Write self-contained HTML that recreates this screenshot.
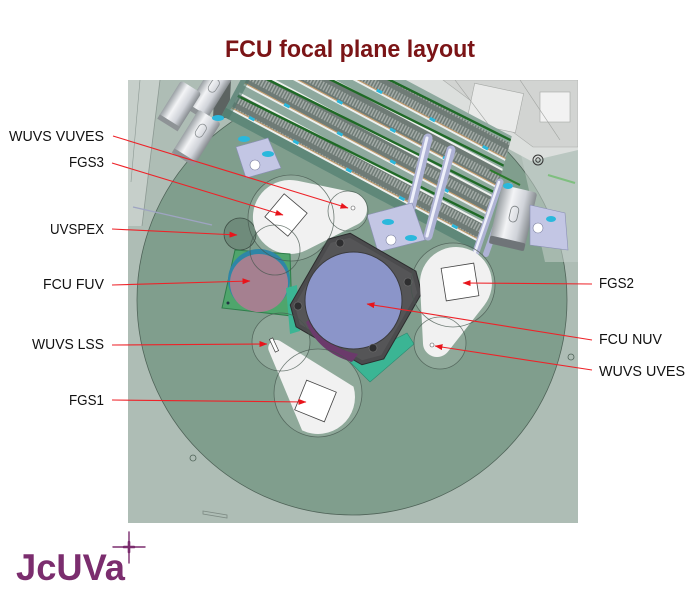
<!DOCTYPE html>
<html><head><meta charset="utf-8">
<style>
html,body{margin:0;padding:0;background:#fff;}
svg{display:block;}
</style></head>
<body>
<svg width="700" height="603" viewBox="0 0 700 603" xmlns="http://www.w3.org/2000/svg" font-family="'Liberation Sans', Arial, sans-serif">
<defs>
  <pattern id="teeth" patternUnits="userSpaceOnUse" width="3" height="13">
    <rect width="3" height="13" fill="#6f7b76"/>
    <rect x="0" y="0" width="1.5" height="8" fill="#a3aba7"/>
  </pattern>
  <linearGradient id="cyl" x1="0" y1="0" x2="1" y2="0">
    <stop offset="0" stop-color="#9aa0a4"/>
    <stop offset="0.35" stop-color="#f3f4f6"/>
    <stop offset="0.7" stop-color="#d0d3d9"/>
    <stop offset="1" stop-color="#878c90"/>
  </linearGradient>
  <marker id="ah" markerWidth="8" markerHeight="6" refX="7.5" refY="3" orient="auto" markerUnits="userSpaceOnUse">
    <path d="M0,0 L8,3 L0,6 Z" fill="#e8141b"/>
  </marker>
  <clipPath id="frame"><rect x="128" y="80" width="450" height="443"/></clipPath>
  <clipPath id="bandclip"><polygon points="100,60 533,60 478,258 100,258"/></clipPath>
</defs>

<!-- Title -->
<text x="350" y="57" text-anchor="middle" font-size="24" font-weight="bold" fill="#7b1416" textLength="250" lengthAdjust="spacingAndGlyphs">FCU focal plane layout</text>

<!-- Frame -->
<rect x="128" y="80" width="450" height="443" fill="#aebdb5"/>
<g clip-path="url(#frame)">
  <polygon points="128,80 160,80 142,226 128,226" fill="#c6cfca"/>
  <line x1="160" y1="80" x2="142" y2="226" stroke="#8c9993" stroke-width="0.8"/>
  <line x1="140" y1="80" x2="131" y2="182" stroke="#8c9993" stroke-width="0.6"/>

  <circle cx="352" cy="300" r="215" fill="#809e8d" stroke="#4f6358" stroke-width="0.8"/>

  <polygon points="520,150 578,140 578,262 545,262" fill="#c4d0ca" opacity="0.55"/>

  <line x1="133" y1="207" x2="212" y2="225" stroke="#9ea4c2" stroke-width="1.4"/>

  <!-- upper right machinery -->
  <polygon points="381,80 578,80 578,150 531,161" fill="#dcdfdd"/>
  <polygon points="443,80 578,80 578,147 533,147" fill="#d2d4d2" stroke="#a9aca9" stroke-width="0.6"/>
  <rect x="470" y="88" width="50" height="40" fill="#e9eae9" stroke="#a5a8a5" stroke-width="0.6" transform="rotate(12 495 108)"/>
  <rect x="540" y="92" width="30" height="30" fill="#f2f2f2" stroke="#a5a8a5" stroke-width="0.6"/>
  <line x1="455" y1="80" x2="500" y2="140" stroke="#a0a3a0" stroke-width="0.6"/>
  <line x1="520" y1="80" x2="560" y2="140" stroke="#a0a3a0" stroke-width="0.6"/>
  <circle cx="538" cy="160" r="5" fill="none" stroke="#333" stroke-width="1"/>
  <circle cx="538" cy="160" r="2.2" fill="none" stroke="#333" stroke-width="1"/>
  <line x1="548" y1="175" x2="575" y2="183" stroke="#7fbf7f" stroke-width="2"/>

  <!-- Top-left cylinders -->
  <polygon points="215,80 231,80 229,118 213,118" fill="#5c6361"/>
  <g transform="translate(208,95) rotate(32)">
    <rect x="-12" y="-28" width="24" height="50" rx="3" fill="url(#cyl)"/>
    <rect x="-12" y="18" width="24" height="5" fill="#8e9396"/>
    <rect x="-4" y="-18" width="8" height="14" rx="4" fill="none" stroke="#8a8f92" stroke-width="0.8"/>
  </g>
  <g transform="translate(178,108) rotate(32)">
    <rect x="-12" y="-25" width="24" height="44" rx="3" fill="url(#cyl)"/>
    <rect x="-12" y="15" width="24" height="5" fill="#8e9396"/>
  </g>
  <g transform="translate(195,140) rotate(32)">
    <rect x="-13" y="-28" width="26" height="50" rx="3" fill="url(#cyl)"/>
    <rect x="-13" y="18" width="26" height="5" fill="#8e9396"/>
    <rect x="-4" y="-18" width="8" height="14" rx="4" fill="none" stroke="#8a8f92" stroke-width="0.8"/>
  </g>

  <!-- Gear band -->
  <g clip-path="url(#bandclip)">
    <g transform="translate(226,118) rotate(28)">
      <rect x="-5" y="-118" width="300" height="118" fill="#8ea99e"/>
      <rect x="-5" y="-9" width="300" height="9" fill="#5f8879"/>
      <!-- unit 1 -->
      <rect x="0" y="-11" width="295" height="2" fill="#eef0ee"/>
      <rect x="0" y="-27" width="295" height="15" fill="url(#teeth)"/>
      <line x1="0" y1="-11.5" x2="295" y2="-11.5" stroke="#c89a68" stroke-width="1"/>
      <rect x="0" y="-29" width="295" height="2" fill="#eef0ee"/>
      <!-- unit 2 -->
      <rect x="0" y="-39" width="295" height="2" fill="#eef0ee"/>
      <rect x="0" y="-55" width="295" height="15" fill="url(#teeth)"/>
      <line x1="0" y1="-39.5" x2="295" y2="-39.5" stroke="#c89a68" stroke-width="1"/>
      <rect x="0" y="-57" width="295" height="2" fill="#eef0ee"/>
      <!-- unit 3 -->
      <rect x="0" y="-67" width="295" height="2" fill="#eef0ee"/>
      <rect x="0" y="-83" width="295" height="15" fill="url(#teeth)"/>
      <line x1="0" y1="-67.5" x2="295" y2="-67.5" stroke="#c89a68" stroke-width="1"/>
      <rect x="0" y="-85" width="295" height="2" fill="#eef0ee"/>
      <!-- unit 4 -->
      <rect x="0" y="-95" width="295" height="2" fill="#eef0ee"/>
      <rect x="0" y="-111" width="295" height="15" fill="url(#teeth)"/>
      <line x1="0" y1="-95.5" x2="295" y2="-95.5" stroke="#c89a68" stroke-width="1"/>
      <!-- green rods -->
      <line x1="0" y1="-25" x2="295" y2="-33" stroke="#1f6a26" stroke-width="2.4"/>
      <line x1="0" y1="-53" x2="295" y2="-61" stroke="#1f6a26" stroke-width="2.4"/>
      <line x1="0" y1="-81" x2="295" y2="-89" stroke="#1f6a26" stroke-width="2.4"/>
      <line x1="0" y1="-107" x2="295" y2="-115" stroke="#1f6a26" stroke-width="2.4"/>
      <g fill="#2ab8dc">
        <rect x="20" y="-13" width="6" height="3"/><rect x="70" y="-13" width="6" height="3"/>
        <rect x="130" y="-13" width="6" height="3"/><rect x="190" y="-13" width="6" height="3"/>
        <rect x="250" y="-13" width="6" height="3"/>
        <rect x="45" y="-41" width="6" height="3"/><rect x="105" y="-41" width="6" height="3"/>
        <rect x="165" y="-41" width="6" height="3"/><rect x="225" y="-41" width="6" height="3"/>
        <rect x="30" y="-69" width="6" height="3"/><rect x="90" y="-69" width="6" height="3"/>
        <rect x="150" y="-69" width="6" height="3"/><rect x="210" y="-69" width="6" height="3"/>
        <rect x="60" y="-97" width="6" height="3"/><rect x="120" y="-97" width="6" height="3"/>
        <rect x="180" y="-97" width="6" height="3"/><rect x="240" y="-97" width="6" height="3"/>
      </g>
      <rect x="-5" y="-118" width="8" height="118" fill="#4f7a6c" opacity="0.6"/>
    </g>
  </g>

  <!-- crossbar rods -->
  <g stroke-linecap="round">
    <line x1="428" y1="138" x2="405" y2="232" stroke="#aeb2d4" stroke-width="9"/>
    <line x1="427" y1="138" x2="404" y2="232" stroke="#eef0fa" stroke-width="3"/>
    <line x1="451" y1="150" x2="428" y2="236" stroke="#aeb2d4" stroke-width="9"/>
    <line x1="450" y1="150" x2="427" y2="236" stroke="#eef0fa" stroke-width="3"/>
    <line x1="500" y1="182" x2="476" y2="252" stroke="#aeb2d4" stroke-width="7"/>
    <line x1="499" y1="182" x2="475" y2="252" stroke="#eef0fa" stroke-width="2.5"/>
    <line x1="510" y1="186" x2="486" y2="254" stroke="#aeb2d4" stroke-width="6"/>
  </g>
  <line x1="490" y1="170" x2="520" y2="185" stroke="#2a7a2a" stroke-width="2"/>

  <!-- motor cylinder right -->
  <g transform="translate(513,218) rotate(13)">
    <rect x="-18" y="-30" width="36" height="58" rx="3" fill="url(#cyl)"/>
    <rect x="-18" y="22" width="36" height="8" rx="2" fill="#6f7478"/>
    <rect x="-4" y="-12" width="8" height="16" rx="4" fill="none" stroke="#7a7f82" stroke-width="0.8"/>
  </g>

  <!-- brackets -->
  <polygon points="236,147 268,138 281,168 246,178" fill="#c3c6e4" stroke="#8a8fb5" stroke-width="0.6"/>
  <circle cx="255" cy="165" r="5" fill="#fff" stroke="#7a7f9f" stroke-width="0.6"/>
  <polygon points="367,215 412,203 425,240 378,252" fill="#c3c6e4" stroke="#8a8fb5" stroke-width="0.6"/>
  <circle cx="391" cy="240" r="5" fill="#fff" stroke="#7a7f9f" stroke-width="0.6"/>
  <polygon points="530,205 565,213 568,250 530,245" fill="#c3c6e4" stroke="#8a8fb5" stroke-width="0.6"/>
  <circle cx="538" cy="228" r="5" fill="#fff" stroke="#7a7f9f" stroke-width="0.6"/>
  <g fill="#2ab8dc">
    <ellipse cx="218" cy="118" rx="6" ry="3"/>
    <ellipse cx="244" cy="139" rx="6" ry="3"/>
    <ellipse cx="268" cy="154" rx="6" ry="3"/>
    <ellipse cx="388" cy="222" rx="6" ry="3"/>
    <ellipse cx="411" cy="238" rx="6" ry="3"/>
    <ellipse cx="551" cy="219" rx="5" ry="3"/>
    <ellipse cx="508" cy="186" rx="5" ry="3"/>
  </g>

  <!-- translucent circle fills -->
  <g fill="#ffffff" fill-opacity="0.12">
    <circle cx="291" cy="218" r="43"/>
    <circle cx="348" cy="211" r="20"/>
    <circle cx="453" cy="285" r="42"/>
    <circle cx="440" cy="343" r="26"/>
    <circle cx="281" cy="342" r="29"/>
    <circle cx="318" cy="393" r="44"/>
  </g>

  <circle cx="240" cy="234" r="16" fill="#6f8b7b" stroke="#3e4e45" stroke-width="0.8"/>

  <!-- FGS3 blob -->
  <path d="M297.5,180.8 L353.4,192.4 A17,17 0 0 1 357.7,224.2 L306.7,250 A37,37 0 1 1 297.5,180.8 Z" fill="#f1f1f1"/>
  <rect x="-15" y="-15" width="30" height="30" fill="#fff" stroke="#444" stroke-width="0.8" transform="translate(286,215) rotate(40)"/>
  <circle cx="353" cy="208" r="2" fill="#fff" stroke="#555" stroke-width="0.6"/>

  <!-- FCU FUV plate -->
  <polygon points="235,250 290,254 292,316 222,308" fill="#4fa56c" stroke="#2e7d4a" stroke-width="1"/>
  <circle cx="228" cy="303" r="1.5" fill="#234"/>
  <circle cx="259" cy="280" r="31" fill="#2f86a6"/>
  <circle cx="259" cy="283" r="29" fill="#a58090"/>

  <polygon points="350,362 407,333 414,344 370,382" fill="#3bb594" stroke="#2a8a70" stroke-width="0.6"/>
  <polygon points="286,288 297,285 300,331 290,334" fill="#3bb594"/>

  <!-- FCU NUV octagon -->
  <g transform="translate(356,299) rotate(30)">
    <polygon points="-38,-54 38,-54 54,-38 54,38 38,54 -38,54 -54,38 -54,-38" fill="#4b4b4d" stroke="#2c2c2e" stroke-width="1"/>
    <polygon points="-36,-50 36,-50 50,-36 50,36 36,50 -36,50 -50,36 -50,-36" fill="#555557"/>
  </g>
  <path d="M306,322 Q318,352 352,362 L358,354 Q325,348 312,318 Z" fill="#6b3a6b"/>
  <circle cx="353.5" cy="300.5" r="48.5" fill="#8b95c9" stroke="#3a3a3c" stroke-width="1"/>
  <g fill="#2e2e30" stroke="#777" stroke-width="0.6">
    <circle cx="340" cy="243" r="4"/>
    <circle cx="408" cy="282" r="4"/>
    <circle cx="298" cy="306" r="4"/>
    <circle cx="373" cy="348" r="4"/>
  </g>

  <!-- FGS2 blob -->
  <path d="M484.3,305.2 L448,351.6 A14,14 0 0 1 423,343.7 L420,284.8 A36,36 0 1 1 484.3,305.2 Z" fill="#f1f1f1"/>
  <rect x="-16.5" y="-16.5" width="33" height="33" fill="#fff" stroke="#444" stroke-width="0.8" transform="translate(460,282) rotate(-9)"/>
  <circle cx="432" cy="345" r="2" fill="#fff" stroke="#555" stroke-width="0.6"/>

  <!-- LSS / FGS1 blob -->
  <path d="M279.7,340.8 L353.5,386.6 A37,37 0 0 1 302.1,430.4 L268.6,350.2 A8,8 0 0 1 279.7,340.8 Z" fill="#f1f1f1"/>
  <rect x="-1.8" y="-7" width="3.6" height="14" fill="#fff" stroke="#444" stroke-width="0.7" transform="translate(274,345) rotate(-25)"/>
  <rect x="-16" y="-16" width="32" height="32" fill="#fff" stroke="#444" stroke-width="0.8" transform="translate(315.5,401) rotate(22)"/>

  <g fill="none" stroke="#46554d" stroke-opacity="0.75" stroke-width="0.8">
    <circle cx="291" cy="218" r="43"/>
    <circle cx="348" cy="211" r="20"/>
    <circle cx="275" cy="250" r="25"/>
    <circle cx="453" cy="285" r="42"/>
    <circle cx="440" cy="343" r="26"/>
    <circle cx="281" cy="342" r="29"/>
    <circle cx="318" cy="393" r="44"/>
  </g>

  <circle cx="193" cy="458" r="3" fill="none" stroke="#4f6358" stroke-width="0.8"/>
  <circle cx="571" cy="357" r="3" fill="none" stroke="#4f6358" stroke-width="0.8"/>
  <polygon points="203,511 227,515 227,518 203,514" fill="none" stroke="#7d8a83" stroke-width="0.8"/>
</g>

<!-- Arrows -->
<g stroke="#ee2228" stroke-width="1.1" fill="none" marker-end="url(#ah)">
  <line x1="113" y1="136" x2="348" y2="208"/>
  <line x1="112" y1="163" x2="283" y2="215"/>
  <line x1="112" y1="229" x2="237" y2="235"/>
  <line x1="112" y1="285" x2="250" y2="281"/>
  <line x1="112" y1="345" x2="267" y2="344"/>
  <line x1="112" y1="400" x2="306" y2="402"/>
  <line x1="592" y1="284" x2="463" y2="283"/>
  <line x1="592" y1="340" x2="367" y2="304"/>
  <line x1="592" y1="370" x2="435" y2="346"/>
</g>

<!-- Labels -->
<g font-size="14.5" fill="#111">
  <text x="104" y="141" text-anchor="end" textLength="95" lengthAdjust="spacingAndGlyphs">WUVS VUVES</text>
  <text x="104" y="167" text-anchor="end" textLength="35" lengthAdjust="spacingAndGlyphs">FGS3</text>
  <text x="104" y="234" text-anchor="end" textLength="54" lengthAdjust="spacingAndGlyphs">UVSPEX</text>
  <text x="104" y="289" text-anchor="end" textLength="61" lengthAdjust="spacingAndGlyphs">FCU FUV</text>
  <text x="104" y="349" text-anchor="end" textLength="72" lengthAdjust="spacingAndGlyphs">WUVS LSS</text>
  <text x="104" y="405" text-anchor="end" textLength="35" lengthAdjust="spacingAndGlyphs">FGS1</text>
  <text x="599" y="288" textLength="35" lengthAdjust="spacingAndGlyphs">FGS2</text>
  <text x="599" y="344" textLength="63" lengthAdjust="spacingAndGlyphs">FCU NUV</text>
  <text x="599" y="376" textLength="86" lengthAdjust="spacingAndGlyphs">WUVS UVES</text>
</g>

<!-- Logo -->
<text x="16" y="580" font-size="37" font-weight="bold" fill="#7b2d6e" textLength="109" lengthAdjust="spacingAndGlyphs">JcUVa</text>
<g stroke="#7b2d6e" stroke-linecap="round">
  <line x1="113" y1="547" x2="145" y2="547" stroke-width="1.4"/>
  <line x1="129" y1="532" x2="129" y2="563" stroke-width="1.4"/>
  <line x1="124" y1="547" x2="134" y2="547" stroke-width="2.6"/>
  <line x1="129" y1="542" x2="129" y2="552" stroke-width="2.6"/>
</g>
</svg>
</body></html>
